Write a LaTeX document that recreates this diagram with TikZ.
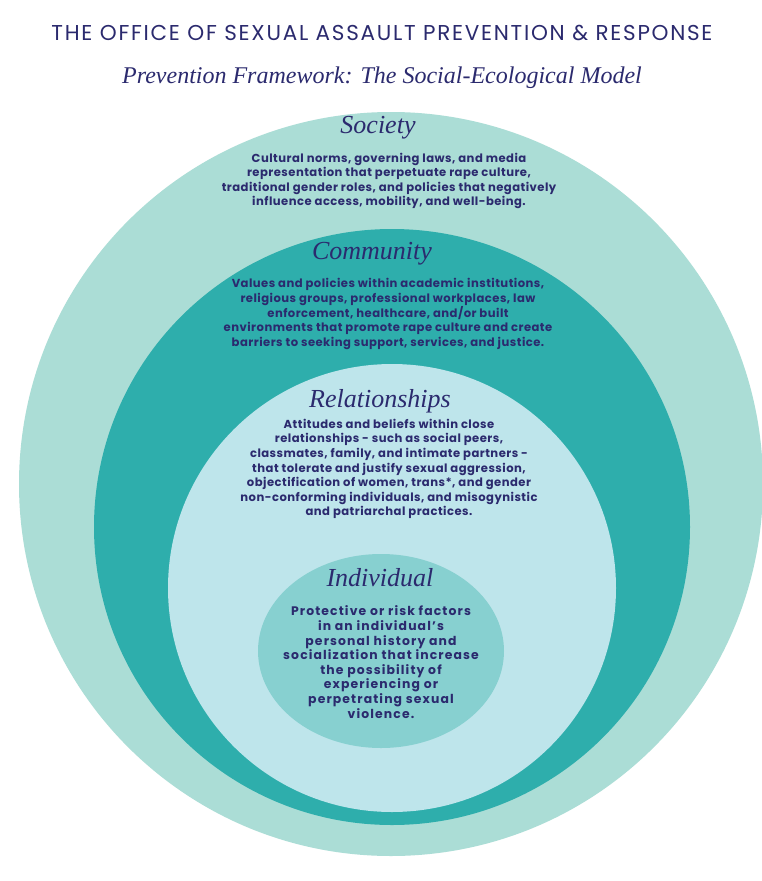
\documentclass[tikz,border=0pt]{standalone}
\usepackage{fontspec}
\setmainfont{Poppins}
\newfontfamily\scr{Liberation Serif}
\newfontfamily\bodyf[LetterSpace=4]{Poppins}
\newfontfamily\indf[LetterSpace=9]{Poppins}
\newfontfamily\titf[LetterSpace=8]{Poppins}
\definecolor{navy}{HTML}{2B2A6E}
\definecolor{soc}{HTML}{ABDDD6}
\definecolor{com}{HTML}{2EAEAC}
\definecolor{rel}{HTML}{BEE5EB}
\definecolor{ind}{HTML}{87D0D0}
\begin{document}
\begin{tikzpicture}[x=1pt,y=-1pt,
  body/.style={text=navy,font=\bodyf\bfseries\fontsize{11.6}{14.6}\selectfont,align=center,inner sep=0},
  head/.style={text=navy,font=\scr\itshape\fontsize{26}{26}\selectfont,inner sep=0}]
\useasboundingbox[fill=white] (0,0) rectangle (762,881);
\fill[soc] (391,484) circle (372);
\fill[com] (392,527) circle (298);
\fill[rel] (392,588) circle (224);
\fill[ind] (381,651) ellipse (123 and 97);
\node[text=navy,font=\titf\fontsize{21.5}{21.5}\selectfont,inner sep=0] (title) at (382,33) {THE OFFICE OF SEXUAL ASSAULT PREVENTION \& RESPONSE};
\node[text=navy,font=\scr\itshape\fontsize{24}{24}\selectfont,inner sep=0] (sub) at (382,78) {Prevention Framework: The Social-Ecological Model};
\node[head] (h1) at (378,128) {Society};
\node[body] (t1) at (389,181) {Cultural norms, governing laws, and media\\representation that perpetuate rape culture,\\traditional gender roles, and policies that negatively\\influence access, mobility, and well-being.};
\node[head] (h2) at (372,254) {Community};
\node[body] (t2) at (388,314) {Values and policies within academic institutions,\\religious groups, professional workplaces, law\\enforcement, healthcare, and/or built\\environments that promote rape culture and create\\barriers to seeking support, services, and justice.};
\node[head] (h3) at (380,401) {Relationships};
\node[body] (t3) at (389,469) {Attitudes and beliefs within close\\relationships - such as social peers,\\classmates, family, and intimate partners -\\that tolerate and justify sexual aggression,\\objectification of women, trans*, and gender\\non-conforming individuals, and misogynistic\\and patriarchal practices.};
\node[head] (h4) at (380,578) {Individual};
\node[body,font=\indf\bfseries\fontsize{12.4}{14.6}\selectfont] (t4) at (381,662) {Protective or risk factors\\in an individual’s\\personal history and\\socialization that increase\\the possibility of\\experiencing or\\perpetrating sexual\\violence.};
\end{tikzpicture}
\end{document}
